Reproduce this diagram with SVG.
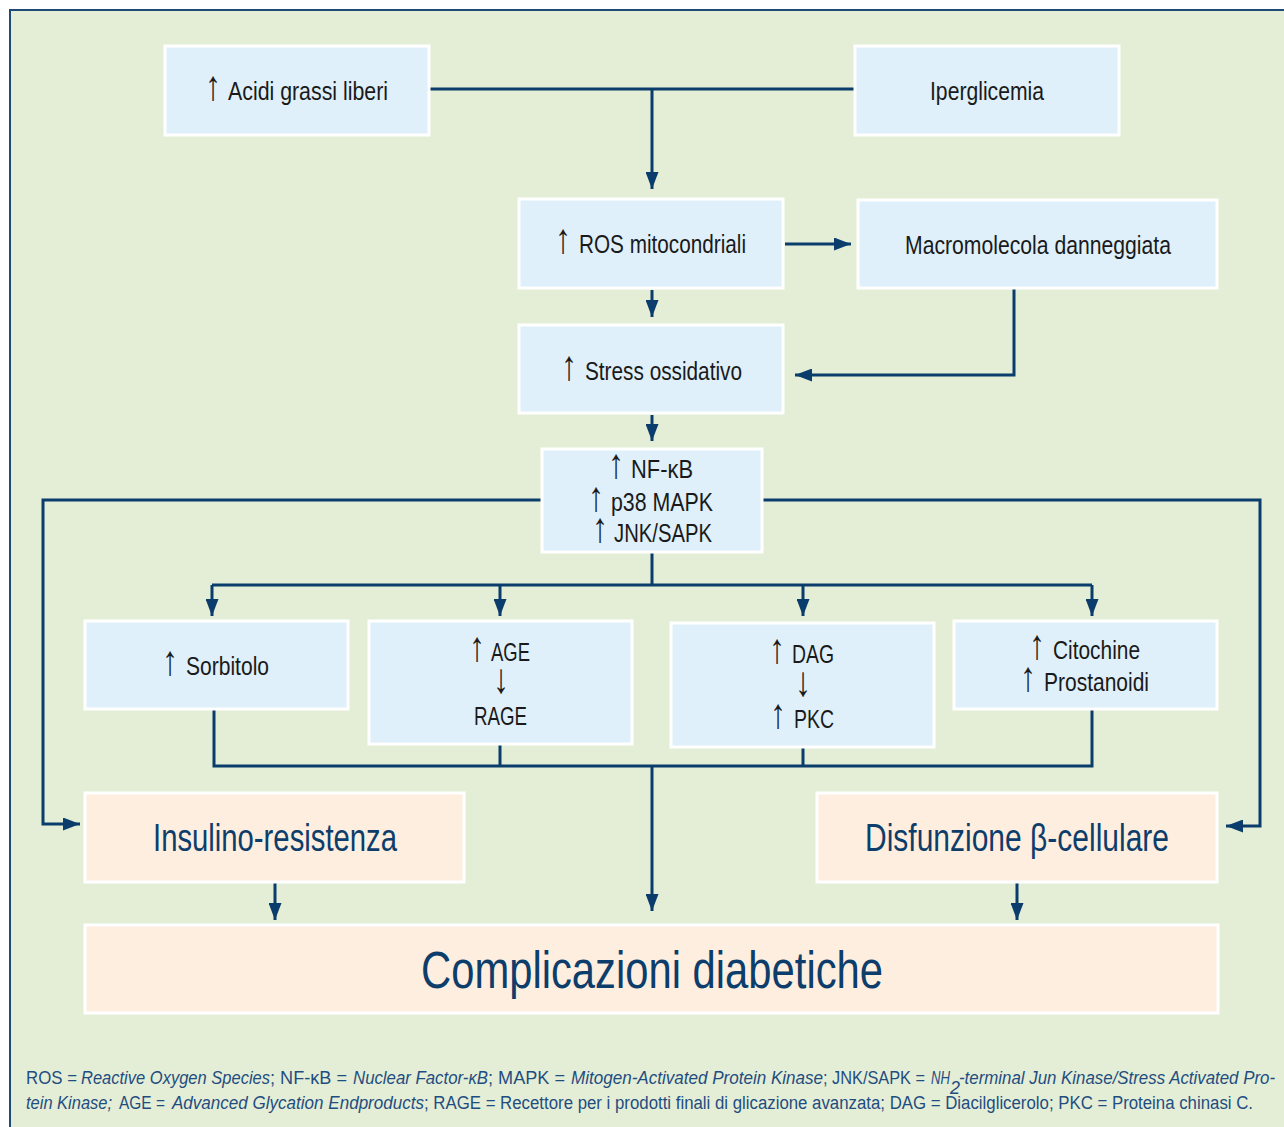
<svg xmlns="http://www.w3.org/2000/svg" width="1284" height="1127" viewBox="0 0 1284 1127">
<defs>
<style>
.bg{fill:#e4eed7;stroke:#1f4a78;stroke-width:2}
.nb{fill:#dff0fa;stroke:#ffffff;stroke-width:3}
.pb{fill:#fdeedf;stroke:#ffffff;stroke-width:3}
.t{font-family:"Liberation Sans",Arial,sans-serif;font-size:25px;fill:#1a1a1a}
.a{font-family:"Liberation Sans",Arial,sans-serif;font-size:42px;fill:#1a1a1a;text-anchor:middle}
.tp{font-family:"Liberation Sans",Arial,sans-serif;fill:#0d3d6b}
.c{fill:none;stroke:#0a3d6b;stroke-width:3}
.fn{font-family:"Liberation Sans",Arial,sans-serif;font-size:18px;fill:#1f4d80}
.i{font-style:italic}
</style>
<marker id="ah" viewBox="0 0 17 13" refX="17" refY="6.5" markerWidth="17" markerHeight="13" markerUnits="userSpaceOnUse" orient="auto">
<path d="M0,0 L17,6.5 L0,13 Z" fill="#0a3d6b"/>
</marker>
</defs>
<rect x="0" y="0" width="1284" height="1127" fill="#ffffff"/>
<rect class="bg" x="10" y="10" width="1290" height="1130"/>

<g id="connectors">
<path class="c" d="M429,89 H855"/>
<path class="c" d="M652,89 V189" marker-end="url(#ah)"/>
<path class="c" d="M785,244 H851" marker-end="url(#ah)"/>
<path class="c" d="M652,290 V317" marker-end="url(#ah)"/>
<path class="c" d="M1014,288 V375 H795" marker-end="url(#ah)"/>
<path class="c" d="M652,415 V441" marker-end="url(#ah)"/>
<path class="c" d="M542,500 H43 V824 H80" marker-end="url(#ah)"/>
<path class="c" d="M762,500 H1260 V826 H1226" marker-end="url(#ah)"/>
<path class="c" d="M652,552 V585"/>
<path class="c" d="M212,585 H1092"/>
<path class="c" d="M212,585 V616" marker-end="url(#ah)"/>
<path class="c" d="M500,585 V616" marker-end="url(#ah)"/>
<path class="c" d="M803,585 V616" marker-end="url(#ah)"/>
<path class="c" d="M1092,585 V616" marker-end="url(#ah)"/>
<path class="c" d="M214,709 V766 H1092 V709"/>
<path class="c" d="M500,744 V766"/>
<path class="c" d="M803,747 V766"/>
<path class="c" d="M652,766 V911" marker-end="url(#ah)"/>
<path class="c" d="M275,882 V920" marker-end="url(#ah)"/>
<path class="c" d="M1017,882 V920" marker-end="url(#ah)"/>
</g>

<g id="acidi"><rect class="nb" x="165" y="46" width="264" height="89"/>
<text class="a" transform="translate(213,100) scale(0.75,1)">↑</text>
<text class="t" x="228" y="100" textLength="160" lengthAdjust="spacingAndGlyphs">Acidi grassi liberi</text></g>
<g id="iperglicemia"><rect class="nb" x="855" y="46" width="264" height="89"/><text class="t" x="930" y="100" textLength="114" lengthAdjust="spacingAndGlyphs">Iperglicemia</text></g>
<g id="ros"><rect class="nb" x="519" y="199" width="264" height="89"/>
<text class="a" transform="translate(563,253) scale(0.75,1)">↑</text>
<text class="t" x="579" y="253" textLength="167" lengthAdjust="spacingAndGlyphs">ROS mitocondriali</text></g>
<g id="macro"><rect class="nb" x="858" y="200" width="359" height="88"/><text class="t" x="905" y="254" textLength="266" lengthAdjust="spacingAndGlyphs">Macromolecola danneggiata</text></g>
<g id="stress"><rect class="nb" x="519" y="325" width="264" height="88"/>
<text class="a" transform="translate(569,380) scale(0.75,1)">↑</text>
<text class="t" x="585" y="380" textLength="157" lengthAdjust="spacingAndGlyphs">Stress ossidativo</text></g>
<g id="nfkb"><rect class="nb" x="542" y="449" width="220" height="103"/>
<text class="a" transform="translate(616,478) scale(0.75,1)">↑</text>
<text class="t" x="631" y="478" textLength="62" lengthAdjust="spacingAndGlyphs">NF-κB</text>
<text class="a" transform="translate(596,511) scale(0.75,1)">↑</text>
<text class="t" x="611" y="511" textLength="102" lengthAdjust="spacingAndGlyphs">p38 MAPK</text>
<text class="a" transform="translate(600,542) scale(0.75,1)">↑</text>
<text class="t" x="614" y="542" textLength="98" lengthAdjust="spacingAndGlyphs">JNK/SAPK</text></g>
<g id="sorbitolo"><rect class="nb" x="85" y="621" width="263" height="88"/>
<text class="a" transform="translate(170,675) scale(0.75,1)">↑</text>
<text class="t" x="186" y="675" textLength="83" lengthAdjust="spacingAndGlyphs">Sorbitolo</text></g>
<g id="age"><rect class="nb" x="369" y="621" width="263" height="123"/>
<text class="a" transform="translate(477,661) scale(0.75,1)">↑</text>
<text class="t" x="491" y="661" textLength="39" lengthAdjust="spacingAndGlyphs">AGE</text>
<text class="a" transform="translate(501,693) scale(0.75,1)">↓</text>
<text class="t" x="474" y="725" textLength="53" lengthAdjust="spacingAndGlyphs">RAGE</text></g>
<g id="dag"><rect class="nb" x="671" y="623" width="263" height="124"/>
<text class="a" transform="translate(777,663) scale(0.75,1)">↑</text>
<text class="t" x="792" y="663" textLength="42" lengthAdjust="spacingAndGlyphs">DAG</text>
<text class="a" transform="translate(803,696) scale(0.75,1)">↓</text>
<text class="a" transform="translate(778,728) scale(0.75,1)">↑</text>
<text class="t" x="794" y="728" textLength="40" lengthAdjust="spacingAndGlyphs">PKC</text></g>
<g id="citochine"><rect class="nb" x="954" y="621" width="263" height="88"/>
<text class="a" transform="translate(1037,659) scale(0.75,1)">↑</text>
<text class="t" x="1053" y="659" textLength="87" lengthAdjust="spacingAndGlyphs">Citochine</text>
<text class="a" transform="translate(1028,691) scale(0.75,1)">↑</text>
<text class="t" x="1044" y="691" textLength="105" lengthAdjust="spacingAndGlyphs">Prostanoidi</text></g>
<g id="insulino"><rect class="pb" x="85" y="793" width="379" height="89"/><text class="tp" x="153" y="851" font-size="38" textLength="244" lengthAdjust="spacingAndGlyphs">Insulino-resistenza</text></g>
<g id="disfunzione"><rect class="pb" x="817" y="793" width="400" height="89"/><text class="tp" x="865" y="851" font-size="38" textLength="304" lengthAdjust="spacingAndGlyphs">Disfunzione β-cellulare</text></g>
<g id="complicazioni"><rect class="pb" x="85" y="925" width="1133" height="88"/><text class="tp" x="421" y="988" font-size="51" textLength="462" lengthAdjust="spacingAndGlyphs">Complicazioni diabetiche</text></g>

<g id="footnote">
<text class="fn" x="26" y="1084" textLength="51" lengthAdjust="spacingAndGlyphs">ROS =</text>
<text class="fn i" x="81" y="1084" textLength="189" lengthAdjust="spacingAndGlyphs">Reactive Oxygen Species</text>
<text class="fn" x="270" y="1084" textLength="77" lengthAdjust="spacingAndGlyphs">; NF-κB =</text>
<text class="fn i" x="353" y="1084" textLength="135" lengthAdjust="spacingAndGlyphs">Nuclear Factor-κB</text>
<text class="fn" x="488" y="1084" textLength="77" lengthAdjust="spacingAndGlyphs">; MAPK =</text>
<text class="fn i" x="571" y="1084" textLength="252" lengthAdjust="spacingAndGlyphs">Mitogen-Activated Protein Kinase</text>
<text class="fn" x="823" y="1084" textLength="102" lengthAdjust="spacingAndGlyphs">; JNK/SAPK =</text>
<text class="fn i" x="931" y="1084" textLength="19" lengthAdjust="spacingAndGlyphs">NH</text>
<text class="fn i" x="950" y="1094" font-size="11">2</text>
<text class="fn i" x="959" y="1084" textLength="316" lengthAdjust="spacingAndGlyphs">-terminal Jun Kinase/Stress Activated Pro-</text>
<text class="fn i" x="26" y="1109" textLength="86" lengthAdjust="spacingAndGlyphs">tein Kinase;</text>
<text class="fn" x="119" y="1109" textLength="46" lengthAdjust="spacingAndGlyphs">AGE =</text>
<text class="fn i" x="172" y="1109" textLength="252" lengthAdjust="spacingAndGlyphs">Advanced Glycation Endproducts</text>
<text class="fn" x="424" y="1109" textLength="829" lengthAdjust="spacingAndGlyphs">; RAGE = Recettore per i prodotti finali di glicazione avanzata; DAG = Diacilglicerolo; PKC = Proteina chinasi C.</text>
</g>
</svg>
